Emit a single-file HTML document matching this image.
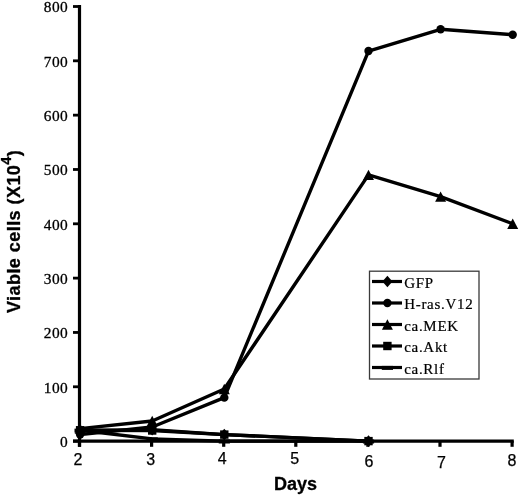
<!DOCTYPE html>
<html><head><meta charset="utf-8"><style>
html,body{margin:0;padding:0;background:#fff;}
body{width:520px;height:496px;overflow:hidden;}
svg{display:block;filter:grayscale(1);}
.yl{font-family:"Liberation Serif",serif;font-size:15.4px;letter-spacing:0.45px;fill:#000;stroke:#000;stroke-width:0.3px;}
.xl{font-family:"Liberation Sans",sans-serif;font-size:16px;fill:#000;stroke:#000;stroke-width:0.25px;}
.lg{font-family:"Liberation Serif",serif;font-size:15px;letter-spacing:0.7px;fill:#000;stroke:#000;stroke-width:0.2px;}
.ttl{font-family:"Liberation Sans",sans-serif;font-size:18px;font-weight:bold;fill:#000;stroke:#000;stroke-width:0.3px;}
</style></head><body>
<svg width="520" height="496" viewBox="0 0 520 496">
<line x1="79.5" y1="5" x2="79.5" y2="446.8" stroke="#000" stroke-width="3.2"/>
<line x1="73" y1="441.1" x2="513.8" y2="441.1" stroke="#000" stroke-width="3.3"/>
<line x1="73" y1="441.10" x2="79.5" y2="441.10" stroke="#000" stroke-width="2.8"/>
<line x1="73" y1="386.78" x2="79.5" y2="386.78" stroke="#000" stroke-width="2.8"/>
<line x1="73" y1="332.45" x2="79.5" y2="332.45" stroke="#000" stroke-width="2.8"/>
<line x1="73" y1="278.12" x2="79.5" y2="278.12" stroke="#000" stroke-width="2.8"/>
<line x1="73" y1="223.80" x2="79.5" y2="223.80" stroke="#000" stroke-width="2.8"/>
<line x1="73" y1="169.48" x2="79.5" y2="169.48" stroke="#000" stroke-width="2.8"/>
<line x1="73" y1="115.15" x2="79.5" y2="115.15" stroke="#000" stroke-width="2.8"/>
<line x1="73" y1="60.82" x2="79.5" y2="60.82" stroke="#000" stroke-width="2.8"/>
<line x1="73" y1="6.50" x2="79.5" y2="6.50" stroke="#000" stroke-width="2.8"/>
<line x1="79.50" y1="441.1" x2="79.50" y2="446.8" stroke="#000" stroke-width="3.2"/>
<line x1="151.60" y1="441.1" x2="151.60" y2="446.8" stroke="#000" stroke-width="3.2"/>
<line x1="223.70" y1="441.1" x2="223.70" y2="446.8" stroke="#000" stroke-width="3.2"/>
<line x1="295.80" y1="441.1" x2="295.80" y2="446.8" stroke="#000" stroke-width="3.2"/>
<line x1="367.90" y1="441.1" x2="367.90" y2="446.8" stroke="#000" stroke-width="3.2"/>
<line x1="440.00" y1="441.1" x2="440.00" y2="446.8" stroke="#000" stroke-width="3.2"/>
<line x1="512.10" y1="441.1" x2="512.10" y2="446.8" stroke="#000" stroke-width="3.2"/>
<text x="68.2" y="447.00" text-anchor="end" class="yl">0</text>
<text x="68.2" y="392.68" text-anchor="end" class="yl">100</text>
<text x="68.2" y="338.35" text-anchor="end" class="yl">200</text>
<text x="68.2" y="284.02" text-anchor="end" class="yl">300</text>
<text x="68.2" y="229.70" text-anchor="end" class="yl">400</text>
<text x="68.2" y="175.38" text-anchor="end" class="yl">500</text>
<text x="68.2" y="121.05" text-anchor="end" class="yl">600</text>
<text x="68.2" y="66.72" text-anchor="end" class="yl">700</text>
<text x="68.2" y="12.40" text-anchor="end" class="yl">800</text>
<text x="78.00" y="464.50" text-anchor="middle" class="xl">2</text>
<text x="150.60" y="464.70" text-anchor="middle" class="xl">3</text>
<text x="222.30" y="464.40" text-anchor="middle" class="xl">4</text>
<text x="294.80" y="464.40" text-anchor="middle" class="xl">5</text>
<text x="368.90" y="467.40" text-anchor="middle" class="xl">6</text>
<text x="441.40" y="467.60" text-anchor="middle" class="xl">7</text>
<text x="512.00" y="466.40" text-anchor="middle" class="xl">8</text>
<polyline points="80.10,430.24 152.20,438.93 224.30,441.10 368.50,441.10" fill="none" stroke="#000" stroke-width="3.4" stroke-linejoin="round"/>
<polyline points="80.10,430.78 152.20,429.69 224.30,434.58 368.50,441.10" fill="none" stroke="#000" stroke-width="3.4" stroke-linejoin="round"/>
<polyline points="80.10,430.24 152.20,430.51 224.30,434.58 368.50,441.10" fill="none" stroke="#000" stroke-width="3.4" stroke-linejoin="round"/>
<polyline points="80.10,434.58 152.20,426.98 224.30,397.64 368.50,51.05 440.60,29.32 512.70,34.75" fill="none" stroke="#000" stroke-width="3.4" stroke-linejoin="round"/>
<polyline points="80.10,428.61 152.20,421.00 224.30,388.95 368.50,174.91 440.60,196.64 512.70,223.80" fill="none" stroke="#000" stroke-width="3.4" stroke-linejoin="round"/>
<rect x="74.50" y="428.63" width="11.2" height="4"/>
<rect x="146.60" y="437.33" width="11.2" height="4"/>
<rect x="218.70" y="439.50" width="11.2" height="4"/>
<rect x="362.90" y="439.50" width="11.2" height="4"/>
<path d="M80.10,424.98 L85.10,430.78 L80.10,436.58 L75.10,430.78Z"/>
<path d="M152.20,423.89 L157.20,429.69 L152.20,435.49 L147.20,429.69Z"/>
<path d="M224.30,428.78 L229.30,434.58 L224.30,440.38 L219.30,434.58Z"/>
<path d="M368.50,435.30 L373.50,441.10 L368.50,446.90 L363.50,441.10Z"/>
<rect x="75.90" y="426.04" width="8.4" height="8.4"/>
<rect x="148.00" y="426.31" width="8.4" height="8.4"/>
<rect x="220.10" y="430.38" width="8.4" height="8.4"/>
<rect x="364.30" y="436.90" width="8.4" height="8.4"/>
<circle cx="80.10" cy="434.58" r="4.2"/>
<circle cx="152.20" cy="426.98" r="4.2"/>
<circle cx="224.30" cy="397.64" r="4.2"/>
<circle cx="368.50" cy="51.05" r="4.2"/>
<circle cx="440.60" cy="29.32" r="4.2"/>
<circle cx="512.70" cy="34.75" r="4.2"/>
<path d="M80.10,423.41 L85.60,433.81 L74.60,433.81Z"/>
<path d="M152.20,415.80 L157.70,426.20 L146.70,426.20Z"/>
<path d="M224.30,383.75 L229.80,394.15 L218.80,394.15Z"/>
<path d="M368.50,169.71 L374.00,180.11 L363.00,180.11Z"/>
<path d="M440.60,191.44 L446.10,201.84 L435.10,201.84Z"/>
<path d="M512.70,218.60 L518.20,229.00 L507.20,229.00Z"/>
<rect x="369.5" y="271.2" width="109.5" height="107.8" fill="#fff" stroke="#3a3a3a" stroke-width="1.3"/>
<line x1="372" y1="281.50" x2="402" y2="281.50" stroke="#000" stroke-width="3.2"/>
<path d="M387.40,275.70 L392.40,281.50 L387.40,287.30 L382.40,281.50Z"/>
<text x="404.2" y="287.70" class="lg">GFP</text>
<line x1="372" y1="303.00" x2="402" y2="303.00" stroke="#000" stroke-width="3.2"/>
<circle cx="387.40" cy="303.00" r="4.2"/>
<text x="404.2" y="309.20" class="lg">H-ras.V12</text>
<line x1="372" y1="324.50" x2="402" y2="324.50" stroke="#000" stroke-width="3.2"/>
<path d="M387.40,319.30 L392.90,329.70 L381.90,329.70Z"/>
<text x="404.2" y="330.70" class="lg">ca.MEK</text>
<line x1="372" y1="346.00" x2="402" y2="346.00" stroke="#000" stroke-width="3.2"/>
<rect x="383.20" y="341.80" width="8.4" height="8.4"/>
<text x="404.2" y="352.20" class="lg">ca.Akt</text>
<line x1="372" y1="367.50" x2="402" y2="367.50" stroke="#000" stroke-width="3.2"/>
<rect x="381.80" y="365.90" width="11.2" height="4"/>
<text x="404.2" y="373.70" class="lg">ca.Rlf</text>
<text x="295.5" y="489.8" text-anchor="middle" class="ttl">Days</text>
<text transform="translate(19.8,231.4) rotate(-90)" text-anchor="middle" class="ttl" letter-spacing="0.45">Viable cells (X10<tspan dy="-8.6" font-size="14.5">4</tspan><tspan dy="8.6">)</tspan></text>
</svg>
</body></html>
